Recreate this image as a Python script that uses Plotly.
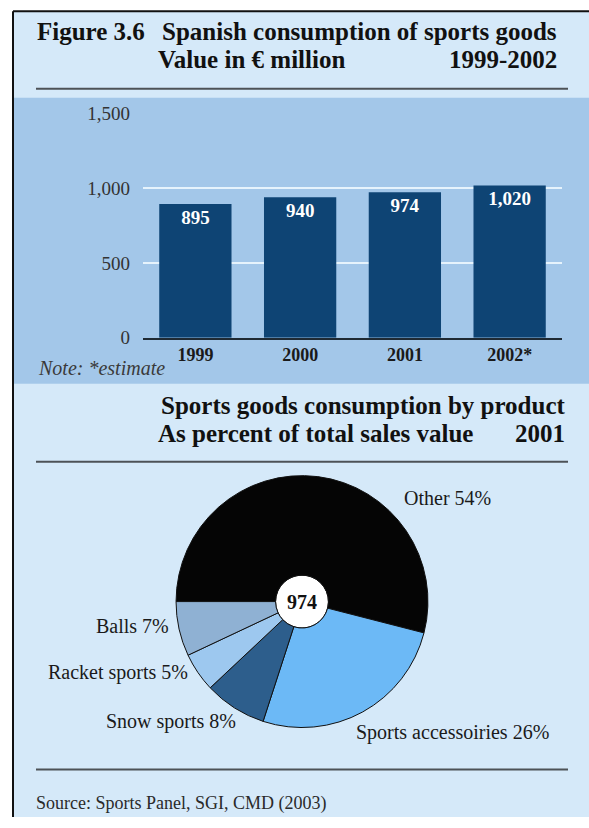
import plotly.graph_objects as go

W, H = 589, 828

# Bar chart data: consumption of sports goods, EUR million
years = ["1999", "2000", "2001", "2002*"]
consumption = [895, 940, 974, 1020]
y_ticks = [0, 500, 1000, 1500]

# Pie chart data: share of total sales value by product, 2001
products = ["Other", "Sports accessoiries", "Snow sports", "Racket sports", "Balls"]
shares = [54, 26, 8, 5, 7]
product_colors = ["#050505", "#6cb9f6", "#2d5e8c", "#9dc8ef", "#8fb1d3"]
total_2001 = 974

SERIF = "Liberation Serif, Times New Roman, serif"
PANEL = "#d5e9f9"
BAND = "#a3c7e9"
RULE = "#4d5257"

# vertical placement helper: page pixel row -> paper fraction
Y_OFF, Y_SCALE = 9.2, 0.975


def px(x):
    return x / W


def py(y):
    return 1 - ((y - Y_OFF) / Y_SCALE) / H


fig = go.Figure()

fig.add_trace(go.Bar(
    x=years, y=consumption,
    marker=dict(color="#0e4474", line_width=0),
    width=0.69,
    texttemplate="%{y:,}",
    textposition="inside",
    insidetextanchor="end",
    textangle=0,
    constraintext="none",
    insidetextfont=dict(family=SERIF, size=19, color="white", weight="bold"),
    hoverinfo="skip",
    showlegend=False,
))

pie_x = (176, 428)
pie_y = (475, 727)
hole = 0.21
fig.add_trace(go.Pie(
    labels=products, values=shares,
    sort=False, direction="clockwise", rotation=-90,
    hole=hole,
    marker=dict(colors=product_colors, line=dict(color="#111111", width=1)),
    textinfo="none", hoverinfo="skip", showlegend=False,
    domain=dict(x=[px(pie_x[0]), px(pie_x[1])], y=[py(pie_y[1]), py(pie_y[0])]),
))

cx = (pie_x[0] + pie_x[1]) / 2
cy = (pie_y[0] + pie_y[1]) / 2
hr = hole * (pie_x[1] - pie_x[0]) / 2

TOP = 10.5
shapes = [
    # panel background and band behind the bar chart
    dict(type="rect", xref="paper", yref="paper", x0=px(13), x1=1, y0=0, y1=py(TOP),
         fillcolor=PANEL, line_width=0, layer="below"),
    dict(type="rect", xref="paper", yref="paper", x0=px(14), x1=1, y0=py(383), y1=py(97),
         fillcolor=BAND, line_width=0, layer="below"),
    # frame lines
    dict(type="line", xref="paper", yref="paper", x0=px(13), x1=px(13), y0=0, y1=py(TOP),
         line=dict(color="#111111", width=2), layer="below"),
    dict(type="line", xref="paper", yref="paper", x0=px(13), x1=1, y0=py(TOP), y1=py(TOP),
         line=dict(color="#111111", width=2), layer="below"),
    # horizontal rules
    dict(type="line", xref="paper", yref="paper", x0=px(36), x1=px(568), y0=py(88), y1=py(88),
         line=dict(color=RULE, width=2), layer="below"),
    dict(type="line", xref="paper", yref="paper", x0=px(36), x1=px(568), y0=py(461), y1=py(461),
         line=dict(color=RULE, width=2), layer="below"),
    dict(type="line", xref="paper", yref="paper", x0=px(36), x1=px(568), y0=py(769), y1=py(769),
         line=dict(color=RULE, width=2), layer="below"),
    # white centre disc of the pie
    dict(type="circle", xref="paper", yref="paper",
         x0=px(cx - hr), x1=px(cx + hr), y0=py(cy + hr), y1=py(cy - hr),
         fillcolor="white", line=dict(color="#111111", width=1), layer="below"),
]

annotations = []


def txt(text, x, y, size, anchor="left", bold=False, italic=False, color="#111111"):
    annotations.append(dict(
        text=text, x=px(x), y=py(y), xref="paper", yref="paper",
        xanchor=anchor, yanchor="middle", showarrow=False, borderpad=0,
        font=dict(family=SERIF, size=size, color=color,
                  weight="bold" if bold else "normal",
                  style="italic" if italic else "normal"),
    ))


# headings
HEAD = 25
txt("Figure 3.6", 36, 30.5, HEAD, bold=True)
txt("Spanish consumption of sports goods", 558, 30.5, HEAD, anchor="right", bold=True)
txt("Value in € million", 157, 59, HEAD, bold=True)
txt("1999-2002", 558, 59, HEAD, anchor="right", bold=True)

txt("Note: *estimate", 37, 367, 20, italic=True, color="#3a3a3a")

txt("Sports goods consumption by product", 566, 404.5, HEAD, anchor="right", bold=True)
txt("As percent of total sales value", 157, 433, HEAD, bold=True)
txt(str(2001), 566, 433, HEAD, anchor="right", bold=True)

# pie labels
label_pos = {
    "Other": (403, 497, "left"),
    "Sports accessoiries": (355, 732, "left"),
    "Snow sports": (237, 721, "right"),
    "Racket sports": (189, 672, "right"),
    "Balls": (170, 625, "right"),
}
for name, share in zip(products, shares):
    x, y, anchor = label_pos[name]
    txt(f"{name} {share}%", x, y, 20, anchor=anchor, color="#1a1a1a")

txt(f"{total_2001}", cx, cy, 20, anchor="center", bold=True)

txt("Source: Sports Panel, SGI, CMD (2003)", 35, 803, 18, color="#2a2a2a")

fig.update_layout(
    width=W, height=H,
    margin=dict(l=0, r=0, t=0, b=0),
    paper_bgcolor="white",
    plot_bgcolor="rgba(0,0,0,0)",
    shapes=shapes,
    annotations=annotations,
    xaxis=dict(
        domain=[px(143), px(562)],
        range=[-0.5, 3.5],
        showline=True, linecolor="#1f2a33", linewidth=1.5,
        showgrid=False, ticks="",
        tickfont=dict(family=SERIF, size=18, color="#1a1a1a", weight="bold"),
        fixedrange=True,
    ),
    yaxis=dict(
        domain=[py(337), py(113)],
        range=[0, 1500],
        tickvals=y_ticks, tickformat=",",
        showgrid=True, gridcolor="#e6f3fc", gridwidth=1.5,
        zeroline=False, showline=False, ticks="",
        ticklabelstandoff=12,
        tickfont=dict(family=SERIF, size=19, color="#333333"),
        fixedrange=True,
    ),
)

fig.write_html("out.html")
